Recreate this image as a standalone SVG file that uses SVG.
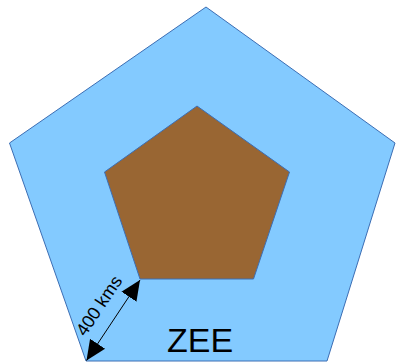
<svg xmlns="http://www.w3.org/2000/svg" width="396" height="363" viewBox="0 0 396 363">
<style>
.shape{stroke:#3c6eb4;stroke-width:1;stroke-linejoin:miter}
.lbl{font-family:"Liberation Sans",Arial,sans-serif;fill:#000}
</style>
<defs>
<marker id="ah" viewBox="0 0 20 20" refX="20" refY="10" markerWidth="20" markerHeight="20" markerUnits="userSpaceOnUse" orient="auto-start-reverse">
<path d="M0,1 L20,10 L0,19 Z" fill="#000"/>
</marker>
</defs>
<rect width="396" height="363" fill="#fff"/>
<g id="zee">
<polygon class="shape" fill="#83caff" points="206,7 395,143 327,361 86,361 9.5,143"/>
<text class="lbl" x="200" y="352" font-size="34" text-anchor="middle">ZEE</text>
</g>
<g id="land">
<polygon class="shape" fill="#996633" points="197,106 289.5,172 253.5,279 140,279 104.5,172"/>
</g>
<g id="connectors">
<line x1="140" y1="280" x2="86.5" y2="360.5" stroke="#000" stroke-width="1" marker-start="url(#ah)" marker-end="url(#ah)"/>
<text class="lbl" x="104" y="309" font-size="18" text-anchor="middle" transform="rotate(-56.3 104 309)">400 kms</text>
</g>
</svg>
